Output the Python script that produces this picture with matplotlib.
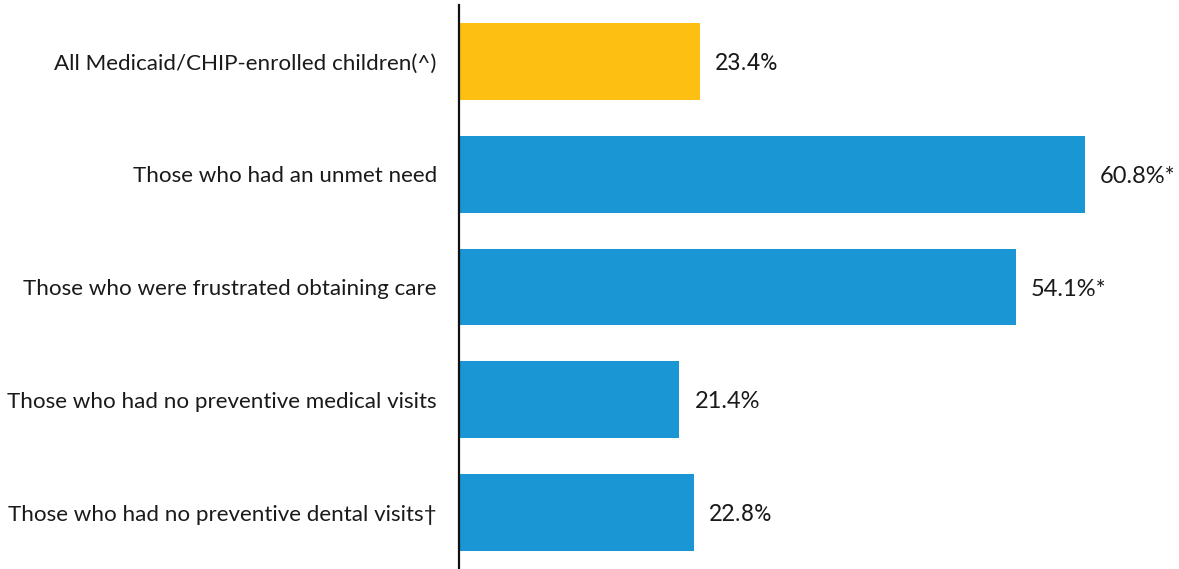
import matplotlib
matplotlib.use("Agg")
import matplotlib.pyplot as plt

categories = [
    "All Medicaid/CHIP-enrolled children(^)",
    "Those who had an unmet need",
    "Those who were frustrated obtaining care",
    "Those who had no preventive medical visits",
    "Those who had no preventive dental visits\u2020",
]
values = [23.4, 60.8, 54.1, 21.4, 22.8]
value_labels = ["23.4%", "60.8%*", "54.1%*", "21.4%", "22.8%"]
bar_colors = ["#FCBF12", "#1996D3", "#1996D3", "#1996D3", "#1996D3"]
label_fonts = ["Roboto", "Lato", "Lato", "Lato", "Roboto"]

fig = plt.figure(figsize=(11.79, 5.69), dpi=100)
ax = fig.add_axes([459 / 1179, 0, 720 / 1179, 564 / 569])

positions = list(range(len(categories)))
ax.barh(positions, values, height=0.68, color=bar_colors, zorder=2)

ax.set_xlim(0, 720 / 10.29)
ax.set_ylim(4.5, -0.5)

for pos, val, lab, fnt in zip(positions, values, value_labels, label_fonts):
    ax.annotate(lab, xy=(val, pos), xytext=(11, -1.5), textcoords="offset points",
                va="center", ha="left", fontsize=17, family=fnt, color="#1a1a1a")

ax.set_yticks(positions)
ax.set_yticklabels(categories, fontsize=16.1, family="Lato", color="#1a1a1a")
ax.tick_params(axis="y", length=0, pad=16)
ax.set_xticks([])

for side in ["top", "right", "bottom"]:
    ax.spines[side].set_visible(False)
ax.spines["left"].set_linewidth(1.6)
ax.spines["left"].set_color("#111111")
ax.spines["left"].set_zorder(3)

fig.savefig("out.png", dpi=100)
